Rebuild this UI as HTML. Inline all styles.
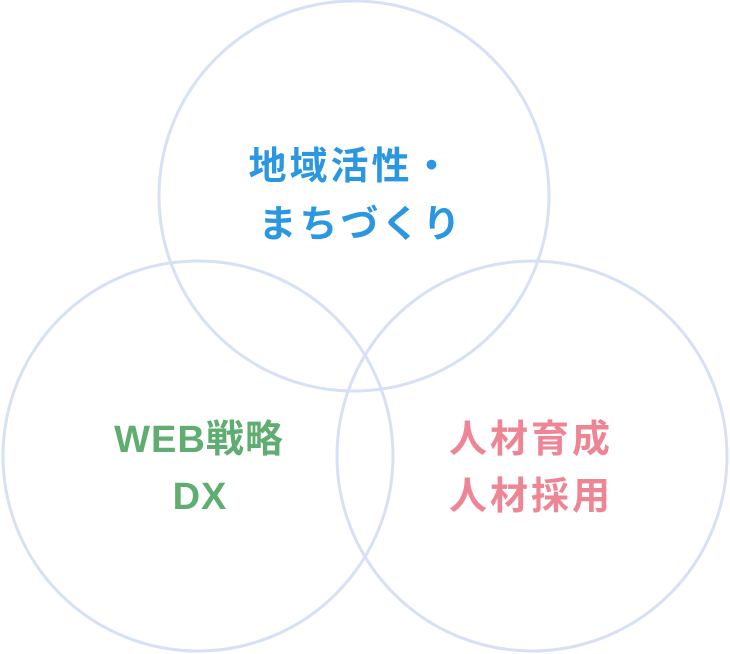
<!DOCTYPE html>
<html><head><meta charset="utf-8"><style>
html,body{margin:0;padding:0;background:#fff;width:730px;height:654px;overflow:hidden}
svg text{font-family:"Liberation Sans","Noto Sans CJK JP",sans-serif;font-weight:bold;font-size:38px;text-anchor:middle}
</style></head><body>
<svg width="730" height="654" viewBox="0 0 730 654" xmlns="http://www.w3.org/2000/svg">
<g fill="none" stroke="#d6e1f5" stroke-width="3">
<circle cx="354" cy="196" r="195"/>
<circle cx="198" cy="456" r="195"/>
<circle cx="532" cy="456" r="195"/>
</g>
<text x="351" y="179" fill="#2b97e0" letter-spacing="3">地域活性・</text>
<text x="361" y="237" fill="#2b97e0" letter-spacing="3">まちづくり</text>
<text x="199" y="452" fill="#5fad70" letter-spacing="1">WEB戦略</text>
<text x="200" y="509" fill="#5fad70" letter-spacing="1">DX</text>
<text x="531" y="452" fill="#ee8595" letter-spacing="3">人材育成</text>
<text x="531" y="509" fill="#ee8595" letter-spacing="3">人材採用</text>
</svg>
</body></html>
